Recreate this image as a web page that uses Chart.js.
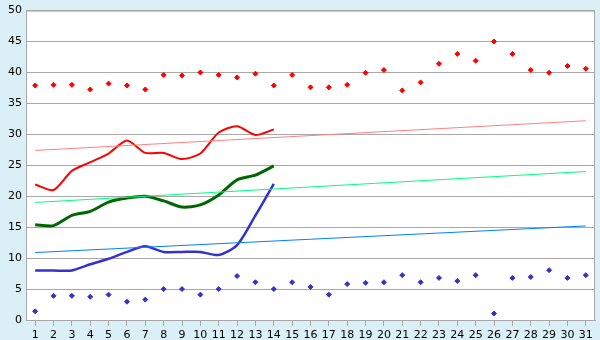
<!DOCTYPE html>
<html>
<head>
<meta charset="utf-8">
<script src="https://cdn.jsdelivr.net/npm/chart.js@4/dist/chart.umd.min.js"></script>
<style>
  html, body { margin: 0; padding: 0; background: #daf0f6; }
  #wrap { width: 600px; height: 340px; }
</style>
</head>
<body>
<div id="wrap"><canvas id="chart" width="600" height="340"></canvas></div>
<script>
const days = ['1','2','3','4','5','6','7','8','9','10','11','12','13','14','15','16',
  '17','18','19','20','21','22','23','24','25','26','27','28','29','30','31'];

// scattered highs / lows
const redDots = [37.9, 38.0, 38.0, 37.25, 38.2, 37.9, 37.25, 39.6, 39.5, 40.0, 39.6, 39.2, 39.8, 37.9, 39.6, 37.6,
  37.6, 38.0, 39.95, 40.4, 37.1, 38.4, 41.4, 43.0, 41.9, 45.0, 43.0, 40.4, 39.95, 41.05, 40.6];
const blueDots = [1.4, 3.9, 3.9, 3.75, 4.1, 2.95, 3.3, 5.0, 5.0, 4.1, 5.0, 7.1, 6.1, 5.0, 6.1, 5.35,
  4.1, 5.8, 6.0, 6.1, 7.25, 6.1, 6.8, 6.3, 7.25, 1.05, 6.8, 6.95, 8.05, 6.8, 7.25];

// smoothed series, first 14 days
const redLine = [21.9, 21.0, 24.1, 25.5, 26.9, 29.0, 27.0, 27.0, 26.0, 26.9, 30.3, 31.3, 29.9, 30.8];
const greenLine = [15.4, 15.25, 16.9, 17.55, 19.05, 19.7, 20.0, 19.25, 18.25, 18.6, 20.2, 22.65, 23.4, 24.9];
const blueLine = [8.0, 8.0, 8.0, 9.0, 9.9, 11.0, 11.9, 11.0, 11.0, 11.0, 10.5, 12.1, 16.9, 22.0];

// trend lines: value at day 1 and day 31
const redTrend = [27.4, 32.2];
const greenTrend = [19.0, 24.0];
const blueTrend = [10.9, 15.2];

const yTicks = [0, 5, 10, 15, 20, 25, 30, 35, 40, 45, 50];

function trend(ends) {
  const arr = days.map(() => null);
  arr[0] = ends[0];
  arr[days.length - 1] = ends[1];
  return arr;
}

const frame = {
  id: 'frame',
  beforeDraw(chart) {
    const { ctx, chartArea: a } = chart;
    ctx.save();
    ctx.fillStyle = '#daf0f6';
    ctx.fillRect(0, 0, chart.width, chart.height);
    ctx.fillStyle = '#ffffff';
    ctx.fillRect(a.left, a.top, a.right - a.left, a.bottom - a.top);
    ctx.restore();
  },
  afterDraw(chart) {
    const { ctx, chartArea: a } = chart;
    ctx.save();
    ctx.strokeStyle = '#a8a8a8';
    ctx.lineWidth = 1;
    ctx.strokeRect(a.left + 0.5, a.top + 0.5, a.right - a.left - 1, a.bottom - a.top);
    ctx.restore();
  }
};

function lineSet(data, color, width) {
  return {
    data: data, borderColor: color, borderWidth: width, pointRadius: 0,
    tension: 0.25, fill: false
  };
}
function trendSet(data, color) {
  return {
    data: data, borderColor: color, borderWidth: 1, pointRadius: 0,
    tension: 0, spanGaps: true, fill: false
  };
}
function dotSet(data, color) {
  return {
    data: data, showLine: false, pointStyle: 'rectRot', pointRadius: 2.5,
    pointBackgroundColor: color, pointBorderColor: color, pointBorderWidth: 1
  };
}

new Chart(document.getElementById('chart'), {
  type: 'line',
  data: {
    labels: days,
    datasets: [
      trendSet(trend(redTrend), '#ff8080'),
      trendSet(trend(greenTrend), '#00ff80'),
      trendSet(trend(blueTrend), '#0080ff'),
      lineSet(redLine, '#ff0000', 2),
      lineSet(greenLine, '#006600', 3),
      lineSet(blueLine, '#3333cc', 2.5),
      dotSet(redDots, '#ff0000'),
      dotSet(blueDots, '#3333cc')
    ]
  },
  options: {
    responsive: false,
    animation: false,
    layout: { padding: { top: 5, right: 5, left: 0, bottom: 0 } },
    plugins: { legend: { display: false }, tooltip: { enabled: false } },
    scales: {
      x: {
        offset: true,
        grid: { offset: false, drawOnChartArea: false, drawTicks: true, tickLength: 6, color: '#a8a8a8' },
        border: { color: '#a8a8a8' },
        ticks: { color: '#000', font: { family: 'DejaVu Sans', size: 11 }, padding: 3, maxRotation: 0, autoSkip: false },
        afterFit(axis) { axis.height = 20; }
      },
      y: {
        min: 0, max: 50,
        afterBuildTicks(axis) { axis.ticks = yTicks.map(v => ({ value: v })); },
        grid: { color: '#a8a8a8', drawTicks: false },
        border: { color: '#a8a8a8' },
        ticks: { color: '#000', font: { family: 'DejaVu Sans', size: 11 }, padding: 4 },
        afterFit(axis) { axis.width = 26; }
      }
    }
  },
  plugins: [frame]
});
</script>
</body>
</html>
